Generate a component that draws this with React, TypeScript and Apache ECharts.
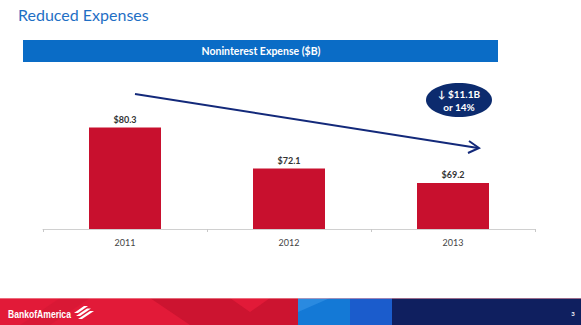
import React, { useEffect, useRef } from "react";
import * as echarts from "echarts";

const categories = ["2011", "2012", "2013"];
const expenses = [80.3, 72.1, 69.2];
const valueLabels = ["$80.3", "$72.1", "$69.2"];
const chartTitle = "Noninterest Expense ($B)";
const pageTitle = "Reduced Expenses";
const calloutLines = ["\u2193 $11.1B", "or 14%"];

export default function App() {
  const ref = useRef<HTMLDivElement>(null);
  useEffect(() => {
    if (!ref.current) return;
    const chart = echarts.init(ref.current, undefined, { renderer: "svg" });
    const font = "Lato, 'Open Sans', sans-serif";
    chart.setOption({
      animation: false,
      backgroundColor: "#ffffff",
      grid: { left: 43, right: 46, top: 79, bottom: 96 },
      xAxis: {
        type: "category",
        data: categories,
        axisLine: { lineStyle: { color: "#d0d0d0", width: 1 } },
        axisTick: { show: true, length: 3, lineStyle: { color: "#c8c8c8" } },
        axisLabel: { color: "#444", fontSize: 9, fontFamily: font, margin: 9 },
      },
      yAxis: {
        type: "value",
        min: 60,
        max: 90,
        show: false,
        splitLine: { show: false },
      },
      series: [
        {
          type: "bar",
          data: expenses,
          barWidth: 72,
          itemStyle: { color: "#c8102e" },
          label: {
            show: true,
            position: "top",
            distance: 4,
            color: "#333",
            fontSize: 9,
            fontWeight: "bold",
            fontFamily: font,
            formatter: (p: any) => valueLabels[p.dataIndex],
          },
        },
      ],
      graphic: [
        {
          type: "text",
          left: 18,
          top: 6,
          style: { text: pageTitle, fill: "#1f6fc5", font: `16px ${font}` },
        },
        {
          type: "rect",
          shape: { x: 23, y: 40, width: 475, height: 22 },
          style: { fill: "#0a6cc6" },
        },
        {
          type: "text",
          x: 261,
          y: 51,
          style: {
            text: chartTitle,
            fill: "#ffffff",
            font: `bold 10.5px ${font}`,
            align: "center",
            verticalAlign: "middle",
          },
        },
        {
          type: "line",
          shape: { x1: 135, y1: 94, x2: 478, y2: 148 },
          style: { stroke: "#13297a", lineWidth: 2 },
        },
        {
          type: "polyline",
          shape: { points: [[469, 141], [479, 148], [468, 153]] },
          style: { stroke: "#13297a", lineWidth: 2, fill: "none" },
        },
        {
          type: "ellipse",
          shape: { cx: 459, cy: 100, rx: 33, ry: 17 },
          style: { fill: "#0c2b6e" },
        },
        {
          type: "text",
          x: 459,
          y: 100,
          style: {
            text: calloutLines.join("\n"),
            fill: "#ffffff",
            font: `bold 10px ${font}`,
            lineHeight: 13,
            align: "center",
            verticalAlign: "middle",
          },
        },
        // footer
        {
          type: "rect",
          shape: { x: 0, y: 298, width: 300, height: 27 },
          style: { fill: "#e21a38" },
        },
        {
          type: "polygon",
          shape: { points: [[150, 298], [230, 298], [250, 312], [270, 298], [300, 298], [300, 325], [190, 325]] },
          style: { fill: "#cc1430" },
        },
        {
          type: "polygon",
          shape: { points: [[20, 325], [60, 298], [90, 298], [50, 325]] },
          style: { fill: "#d41733", opacity: 0.6 },
        },
        {
          type: "rect",
          shape: { x: 298, y: 298, width: 54, height: 27 },
          style: { fill: "#1479d6" },
        },
        {
          type: "polygon",
          shape: { points: [[298, 298], [330, 298], [298, 312]] },
          style: { fill: "#2a8ae0" },
        },
        {
          type: "rect",
          shape: { x: 350, y: 298, width: 43, height: 27 },
          style: { fill: "#1b5ccc" },
        },
        {
          type: "rect",
          shape: { x: 392, y: 298, width: 189, height: 27 },
          style: { fill: "#0f1f5f" },
        },
        {
          type: "line",
          shape: { x1: 0, y1: 298.5, x2: 581, y2: 298.5 },
          style: { stroke: "#f3a0a8", lineWidth: 1, opacity: 0.6 },
        },
        {
          type: "text",
          x: 8,
          y: 314,
          scaleX: 0.78,
          style: {
            text: "BankofAmerica",
            fill: "#ffffff",
            font: "bold 11px 'Liberation Sans', Arial, sans-serif",
            verticalAlign: "middle",
          },
        },
        {
          type: "polygon",
          shape: { points: [[74, 313], [84, 306], [88, 306], [78, 313]] },
          style: { fill: "#ffffff" },
        },
        {
          type: "polygon",
          shape: { points: [[76, 316], [87, 308.5], [91, 308.5], [80, 316]] },
          style: { fill: "#ffffff" },
        },
        {
          type: "polygon",
          shape: { points: [[78, 319], [90, 311], [94, 311], [82, 319]] },
          style: { fill: "#ffffff" },
        },
        {
          type: "text",
          x: 573,
          y: 313,
          style: {
            text: "3",
            fill: "#ffffff",
            font: `bold 6px ${font}`,
            align: "center",
            verticalAlign: "middle",
          },
        },
      ],
    });
    return () => chart.dispose();
  }, []);
  return <div ref={ref} style={{ width: 581, height: 325, position: "fixed", left: 0, top: 0 }} />;
}
